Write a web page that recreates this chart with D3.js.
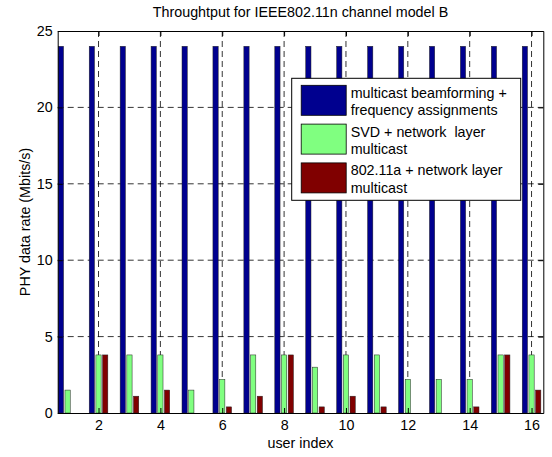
<!DOCTYPE html>
<html>
<head>
<meta charset="utf-8">
<script src="https://cdn.jsdelivr.net/npm/d3@7"></script>
<style>
  body { margin: 0; background: #fff; }
  text { font-family: "Liberation Sans", Arial, sans-serif; fill: #000; white-space: pre; }
</style>
</head>
<body>
<div id="chart"></div>
<script>
// data
var users = d3.range(1, 17);
var beamforming = [24, 24, 24, 24, 24, 24, 24, 24, 24, 24, 24, 24, 24, 24, 24, 24];
var svdNet = [1.5, 3.8, 3.8, 3.8, 1.5, 2.2, 3.8, 3.8, 3.0, 3.8, 3.8, 2.2, 2.2, 2.2, 3.8, 3.8];
var legacyNet = [0, 3.8, 1.1, 1.5, 0, 0.4, 1.1, 3.8, 0.4, 1.1, 0.4, 0, 0, 0.4, 3.8, 1.5];
var seriesNames = [
  ["multicast beamforming +", "frequency assignments"],
  ["SVD + network  layer", "multicast"],
  ["802.11a + network layer", "multicast"]
];
var seriesColors = ["#00008f", "#80ff80", "#800000"];
var xTicks = [2, 4, 6, 8, 10, 12, 14, 16];
var yTicks = [0, 5, 10, 15, 20, 25];

chart('#chart');

function chart(id) {
  var width = 552, height = 457;
  var plot = { left: 57.7, right: 543.3, top: 31, bottom: 413 };
  var fontSize = "14.3px";

  var svg = d3.select(id).append("svg")
    .attr("width", width)
    .attr("height", height);

  svg.append("rect").attr("width", width).attr("height", height).attr("fill", "#fff");

  var x = d3.scaleLinear().domain([0.68, 16.38]).range([plot.left, plot.right]);
  var y = d3.scaleLinear().domain([0, 25]).range([plot.bottom, plot.top]);

  // grid, beneath the bars
  var grid = svg.append("g")
    .attr("stroke", "#000")
    .attr("stroke-width", 0.8)
    .attr("stroke-dasharray", "6,4");
  grid.selectAll(".gx").data(xTicks).enter().append("line")
    .attr("x1", d => x(d)).attr("x2", d => x(d))
    .attr("y1", plot.top).attr("y2", plot.bottom);
  grid.selectAll(".gy").data(yTicks.slice(1, -1)).enter().append("line")
    .attr("x1", plot.left).attr("x2", plot.right)
    .attr("y1", d => y(d)).attr("y2", d => y(d));

  // grouped bars
  var series = [beamforming, svdNet, legacyNet];
  var offset = 0.216, barW = 0.17;
  series.forEach(function(vals, s) {
    svg.append("g").selectAll("rect")
      .data(users)
      .enter().append("rect")
      .attr("x", d => x(d + (s - 1) * offset - barW / 2))
      .attr("width", x(barW) - x(0))
      .attr("y", (d, i) => y(vals[i]))
      .attr("height", (d, i) => y(0) - y(vals[i]))
      .attr("fill", seriesColors[s])
      .attr("stroke", "#222")
      .attr("stroke-width", 0.5);
  });

  // axes with inward ticks, box on all four sides
  svg.append("g")
    .attr("transform", "translate(0," + plot.bottom + ")")
    .call(d3.axisBottom(x).tickValues(xTicks).tickSize(-5).tickSizeOuter(0).tickPadding(7));
  svg.append("g")
    .attr("transform", "translate(" + plot.left + ",0)")
    .call(d3.axisLeft(y).tickValues(yTicks).tickSize(-5).tickSizeOuter(0).tickPadding(5));
  svg.append("g")
    .attr("transform", "translate(0," + plot.top + ")")
    .call(d3.axisTop(x).tickValues(xTicks).tickSize(-5).tickSizeOuter(0).tickFormat(""));
  svg.append("g")
    .attr("transform", "translate(" + plot.right + ",0)")
    .call(d3.axisRight(y).tickValues(yTicks).tickSize(-5).tickSizeOuter(0).tickFormat(""));
  svg.selectAll(".domain").attr("stroke", "#000").attr("stroke-width", 1);
  svg.selectAll(".tick line").attr("stroke", "#000");
  svg.selectAll(".tick text")
    .style("font-family", "'Liberation Sans', Arial, sans-serif")
    .style("font-size", fontSize)
    .attr("fill", "#000");

  // title and axis labels
  svg.append("text")
    .attr("x", (plot.left + plot.right) / 2).attr("y", 17)
    .attr("text-anchor", "middle")
    .style("font-size", fontSize)
    .text("Throughtput for IEEE802.11n channel model B");
  svg.append("text")
    .attr("x", (plot.left + plot.right) / 2).attr("y", 448)
    .attr("text-anchor", "middle")
    .style("font-size", fontSize)
    .text("user index");
  svg.append("text")
    .attr("transform", "translate(30," + (plot.top + plot.bottom) / 2 + ") rotate(-90)")
    .attr("text-anchor", "middle")
    .style("font-size", fontSize)
    .text("PHY data rate (Mbits/s)");

  // legend
  var lg = svg.append("g").attr("transform", "translate(291.7,78.3)");
  lg.append("rect")
    .attr("width", 229).attr("height", 122)
    .attr("fill", "#fff").attr("stroke", "#000").attr("stroke-width", 1);
  seriesNames.forEach(function(lines, i) {
    var row = lg.append("g").attr("transform", "translate(0," + (7 + i * 38.8) + ")");
    row.append("rect")
      .attr("x", 9.5).attr("y", 0)
      .attr("width", 45).attr("height", 30)
      .attr("fill", seriesColors[i]).attr("stroke", "#000").attr("stroke-width", 0.8);
    lines.forEach(function(t, k) {
      row.append("text")
        .attr("x", 59).attr("y", 12.5 + k * 17.4)
        .style("font-size", fontSize)
        .text(t);
    });
  });
}
</script>
</body>
</html>
